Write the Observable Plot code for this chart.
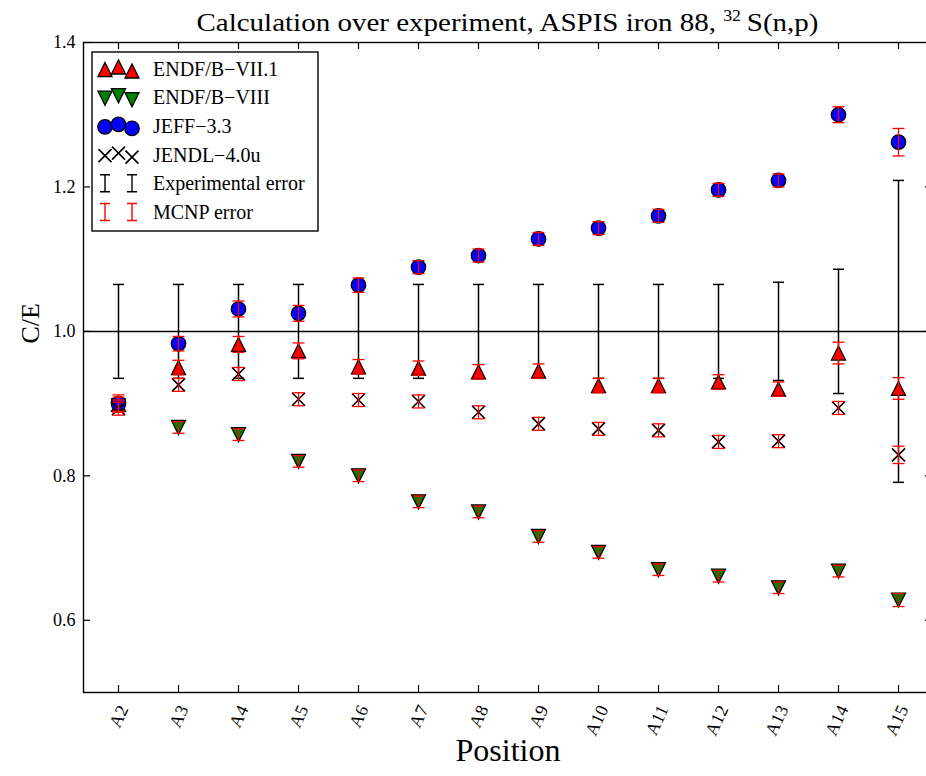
<!DOCTYPE html>
<html><head><meta charset="utf-8">
<script src="https://cdn.jsdelivr.net/npm/d3@7"></script>
<script src="https://cdn.jsdelivr.net/npm/@observablehq/plot@0.6"></script>
<style>
body{margin:0;background:#fff}
#chart svg{display:block}
#chart svg, #chart svg text{font-family:"Liberation Serif", "DejaVu Serif", serif !important;}
</style>
</head><body><div id="chart"></div>
<script>
// ---------- data ----------
const positions = ["A2","A3","A4","A5","A6","A7","A8","A9","A10","A11","A12","A13","A14","A15"];
const endf71    = [0.899,0.950,0.982,0.973,0.951,0.949,0.944,0.945,0.925,0.925,0.930,0.920,0.970,0.921];
const endf71Err = [0.010,0.010,0.011,0.011,0.010,0.010,0.010,0.010,0.010,0.010,0.010,0.010,0.015,0.015];
const endf80    = [0.897,0.867,0.857,0.820,0.800,0.764,0.750,0.716,0.694,0.670,0.661,0.645,0.668,0.628];
const endf80Err = [0.008,0.008,0.008,0.008,0.008,0.008,0.008,0.008,0.008,0.008,0.008,0.008,0.008,0.009];
const jeff33    = [0.900,0.983,1.031,1.025,1.064,1.089,1.105,1.128,1.143,1.160,1.196,1.209,1.300,1.262];
const jeff33Err = [0.012,0.010,0.011,0.011,0.010,0.009,0.009,0.009,0.009,0.009,0.009,0.009,0.011,0.019];
const jendl     = [0.893,0.926,0.941,0.906,0.905,0.903,0.888,0.872,0.865,0.863,0.847,0.848,0.894,0.829];
const jendlErr  = [0.009,0.009,0.009,0.009,0.009,0.009,0.009,0.009,0.009,0.009,0.009,0.009,0.009,0.012];
const expErr    = [0.065,0.065,0.065,0.065,0.065,0.065,0.065,0.065,0.065,0.065,0.065,0.068,0.086,0.209];
const yTicks = [0.6,0.8,1.0,1.2,1.4];
const yTickLabels = ["0.6","0.8","1.0","1.2","1.4"];
const seriesNames = ["ENDF/B\u2212VII.1","ENDF/B\u2212VIII","JEFF\u22123.3","JENDL\u22124.0u","Experimental error","MCNP error"];

// ---------- helpers ----------
const rows = (vals, errs) => positions.map((p,i)=>({pos:p, v:vals[i], e:errs[i]}));
const r71 = rows(endf71, endf71Err), r80 = rows(endf80, endf80Err),
      rJeff = rows(jeff33, jeff33Err), rJendl = rows(jendl, jendlErr),
      rExp = positions.map((p,i)=>({pos:p, v:1.0, e:expErr[i]}));

const rad = s => Math.sqrt(s/Math.PI);
const triUp = {draw(c,s){const r=rad(s);c.moveTo(0,-r);c.lineTo(r,r);c.lineTo(-r,r);c.closePath();}};
const triDown = {draw(c,s){const r=rad(s);c.moveTo(0,r);c.lineTo(r,-r);c.lineTo(-r,-r);c.closePath();}};
const circ = {draw(c,s){const r=rad(s);c.moveTo(r,0);c.arc(0,0,r,0,2*Math.PI);c.closePath();}};
const xSym = {draw(c,s){const r=rad(s);c.moveTo(-r,-r);c.lineTo(r,r);c.moveTo(r,-r);c.lineTo(-r,r);}};
const capSym = {draw(c,s){const r=rad(s);c.moveTo(-r,0);c.lineTo(r,0);}};

const errMarks = (data, color, capR, sw) => [
  Plot.ruleX(data, {x:"pos", y1:d=>d.v-d.e, y2:d=>d.v+d.e, stroke:color, strokeWidth:sw}),
  Plot.dot(data, {x:"pos", y:d=>d.v+d.e, symbol:capSym, r:capR, fill:"none", stroke:color, strokeWidth:sw}),
  Plot.dot(data, {x:"pos", y:d=>d.v-d.e, symbol:capSym, r:capR, fill:"none", stroke:color, strokeWidth:sw})
];

const W = 926, H = 776, mL = 83, mR = -6, mT = 42, mB = 84;
const fw = W - mL - mR, fh = H - mT - mB, tl = 7;

const chart = Plot.plot({
  width: W, height: H, marginLeft: mL, marginRight: mR, marginTop: mT, marginBottom: mB,
  style: {background: "#fff", color: "#000", overflow: "visible"},
  x: {type: "point", domain: positions, padding: 0.5, axis: null},
  y: {domain: [0.5, 1.4], axis: null},
  marks: [
    // inward ticks on all four sides
    Plot.tickY(yTicks, {y: d=>d, insetRight: fw - tl, stroke: "#000", strokeWidth: 1.2}),
    Plot.tickY(yTicks, {y: d=>d, insetLeft: fw - tl, stroke: "#000", strokeWidth: 1.2}),
    Plot.tickX(positions, {x: d=>d, insetTop: fh - tl, stroke: "#000", strokeWidth: 1.2}),
    Plot.tickX(positions, {x: d=>d, insetBottom: fh - tl, stroke: "#000", strokeWidth: 1.2}),
    // y tick labels
    Plot.text(yTicks, {y: d=>d, text: (d,i)=>yTickLabels[i], frameAnchor: "left", dx: -8, textAnchor: "end", fontSize: 18, fill: "#000"}),
    // x tick labels
    Plot.text(positions, {x: d=>d, text: d=>d, frameAnchor: "bottom", dy: 14, dx: 5, rotate: -65, textAnchor: "end", lineAnchor: "middle", fontSize: 18, fill: "#000"}),
    // axis labels
    Plot.text(["C/E"], {text: d=>d, frameAnchor: "left", dx: -53, dy: -24, rotate: -90, fontSize: 26, fill: "#000"}),
    Plot.text(["Position"], {text: d=>d, frameAnchor: "bottom", dy: 68, fontSize: 32, fill: "#000"}),
    // experimental error bars around 1
    ...errMarks(rExp, "#000", 5.5, 1.5),
    Plot.ruleY([1.0], {stroke: "#000", strokeWidth: 1.5}),
    // markers
    Plot.dot(r71, {x:"pos", y:"v", symbol: triUp, r: 7, fill: "#ff0000", stroke: "#000", strokeWidth: 1.3}),
    Plot.dot(r80, {x:"pos", y:"v", symbol: triDown, r: 7, fill: "#008000", stroke: "#000", strokeWidth: 1.3}),
    Plot.dot(rJeff, {x:"pos", y:"v", symbol: circ, r: 7.2, fill: "#0000ff", stroke: "#000", strokeWidth: 1.3}),
    Plot.dot(rJendl, {x:"pos", y:"v", symbol: xSym, r: 6.5, fill: "none", stroke: "#000", strokeWidth: 1.6}),
    // MCNP error bars
    ...errMarks(r71, "#ff0000", 6, 1.3),
    ...errMarks(r80, "#ff0000", 6, 1.3),
    ...errMarks(rJeff, "#ff0000", 6, 1.3),
    ...errMarks(rJendl, "#ff0000", 6, 1.3),
    Plot.frame({stroke: "#000", strokeWidth: 1.4})
  ]
});
document.getElementById("chart").appendChild(chart);

// ---------- title ----------
const svg = d3.select(chart);
const title = svg.append("text").attr("x", (mL + W - mR)/2).attr("y", 31)
  .attr("text-anchor", "middle").attr("font-size", 26).attr("fill", "#000")
  .attr("textLength", 622).attr("lengthAdjust", "spacingAndGlyphs");
title.append("tspan").text("Calculation over experiment, ASPIS iron 88, ");
title.append("tspan").attr("font-size", 16).attr("dy", -10).text("32");
title.append("tspan").attr("dy", 10).text("\u2009S(n,p)");

// ---------- legend ----------
const lg = svg.append("g").attr("text-anchor", "start");
const lx = 92, ly = 52, lw = 226, lh = 179;
lg.append("rect").attr("x", lx).attr("y", ly).attr("width", lw).attr("height", lh)
  .attr("fill", "#fff").attr("stroke", "#000").attr("stroke-width", 1.4);
const rowY = i => 68.5 + i * 28.7;
const mx = [105, 118.5, 132], moff = [1, -1.5, 2.5];
const legSyms = [
  {sym: triUp, r: 7, fill: "#ff0000", stroke: "#000", sw: 1.3},
  {sym: triDown, r: 7, fill: "#008000", stroke: "#000", sw: 1.3},
  {sym: circ, r: 7.2, fill: "#0000ff", stroke: "#000", sw: 1.3},
  {sym: xSym, r: 6.5, fill: "none", stroke: "#000", sw: 1.6}
];
legSyms.forEach((s, i) => {
  mx.forEach((x, j) => {
    lg.append("path").attr("transform", `translate(${x},${rowY(i) + moff[j]})`)
      .attr("d", d3.symbol(s.sym, Math.PI * s.r * s.r)())
      .attr("fill", s.fill).attr("stroke", s.stroke).attr("stroke-width", s.sw);
  });
});
[["#000", 4], ["#ff0000", 5]].forEach(([col, i]) => {
  [105, 132].forEach(x => {
    const y = rowY(i), h = 8.5, c = 5;
    lg.append("path").attr("d", `M${x},${y-h}V${y+h}M${x-c},${y-h}H${x+c}M${x-c},${y+h}H${x+c}`)
      .attr("stroke", col).attr("stroke-width", 1.4).attr("fill", "none");
  });
});
seriesNames.forEach((n, i) => {
  lg.append("text").attr("x", 153).attr("y", rowY(i)).attr("dy", "0.35em")
    .attr("font-size", 20).attr("fill", "#000").text(n);
});
</script>
</body></html>
